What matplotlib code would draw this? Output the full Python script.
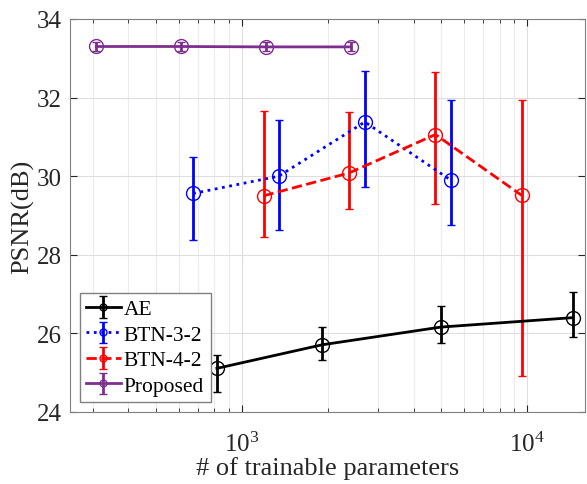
import numpy as np
import matplotlib.pyplot as plt

plt.rcParams['font.family'] = ['Liberation Serif', 'DejaVu Serif']
plt.rcParams['mathtext.fontset'] = 'stix'

# ---- data ----
ae_x = [818, 1913, 4977, 14420]
ae_y = [25.11, 25.71, 26.16, 26.40]
ae_lo = [24.50, 25.31, 25.76, 25.90]
ae_hi = [25.46, 26.17, 26.70, 27.05]

btn32_x = [675, 1346, 2698, 5395]
btn32_y = [29.56, 30.00, 31.38, 29.90]
btn32_lo = [28.37, 28.62, 29.73, 28.76]
btn32_hi = [30.48, 31.44, 32.68, 31.94]

btn42_x = [1191, 2372, 4768, 9573]
btn42_y = [29.50, 30.08, 31.06, 29.51]
btn42_lo = [28.45, 29.16, 29.30, 24.92]
btn42_hi = [31.65, 31.63, 32.66, 31.94]

prop_x = [309, 610, 1213, 2417]
prop_y = [33.30, 33.30, 33.29, 33.29]
prop_lo = [33.19, 33.19, 33.18, 33.18]
prop_hi = [33.42, 33.42, 33.41, 33.41]

series = [
    ("AE", ae_x, ae_y, ae_lo, ae_hi, "black", "-"),
    ("BTN-3-2", btn32_x, btn32_y, btn32_lo, btn32_hi, "#0000ff", ":"),
    ("BTN-4-2", btn42_x, btn42_y, btn42_lo, btn42_hi, "#ff0000", "--"),
    ("Proposed", prop_x, prop_y, prop_lo, prop_hi, "#7e2f8e", "-"),
]

fig = plt.figure(figsize=(5.87, 4.85), dpi=100)
ax = fig.add_axes([0.1193, 0.1485, 0.8781, 0.8103])

for name, x, y, lo, hi, c, ls in series:
    y = np.array(y)
    err = [y - np.array(lo), np.array(hi) - y]
    ax.errorbar(x, y, yerr=err, color=c, ls=ls, lw=2, marker="o", ms=10,
                mfc="none", mew=1.0, capsize=3, capthick=2, elinewidth=2,
                label=name)

ax.set_xscale("log")
ax.set_xlim(250, 16000)
ax.set_ylim(24, 34)
ax.set_yticks([24, 26, 28, 30, 32, 34])
ax.grid(True, which="major", color="#dedede", lw=0.8)
ax.grid(True, which="minor", color="#ececec", lw=0.8)
ax.set_axisbelow(True)
ax.tick_params(which="both", direction="in", top=True, right=True,
               labelsize=18, colors="#262626")
ax.tick_params(which="major", length=5)
ax.tick_params(which="minor", length=3)
ax.tick_params(axis="x", which="both", pad=14)
ax.tick_params(axis="y", which="both", pad=6)
for s in ax.spines.values():
    s.set_color("#808080")

ax.set_xlabel("# of trainable parameters", fontsize=19, color="#262626",
              labelpad=0)
ax.set_ylabel("PSNR(dB)", fontsize=19, color="#262626", labelpad=2)

leg = ax.legend(loc="lower left", fontsize=15.5, frameon=True, fancybox=False,
                edgecolor="#808080", handlelength=1.6, handletextpad=0.15,
                borderpad=0.3, labelspacing=0.25, borderaxespad=0.45,
                markerscale=0.5, framealpha=1)
leg.get_frame().set_linewidth(1.0)

fig.savefig("out.png", dpi=100)
